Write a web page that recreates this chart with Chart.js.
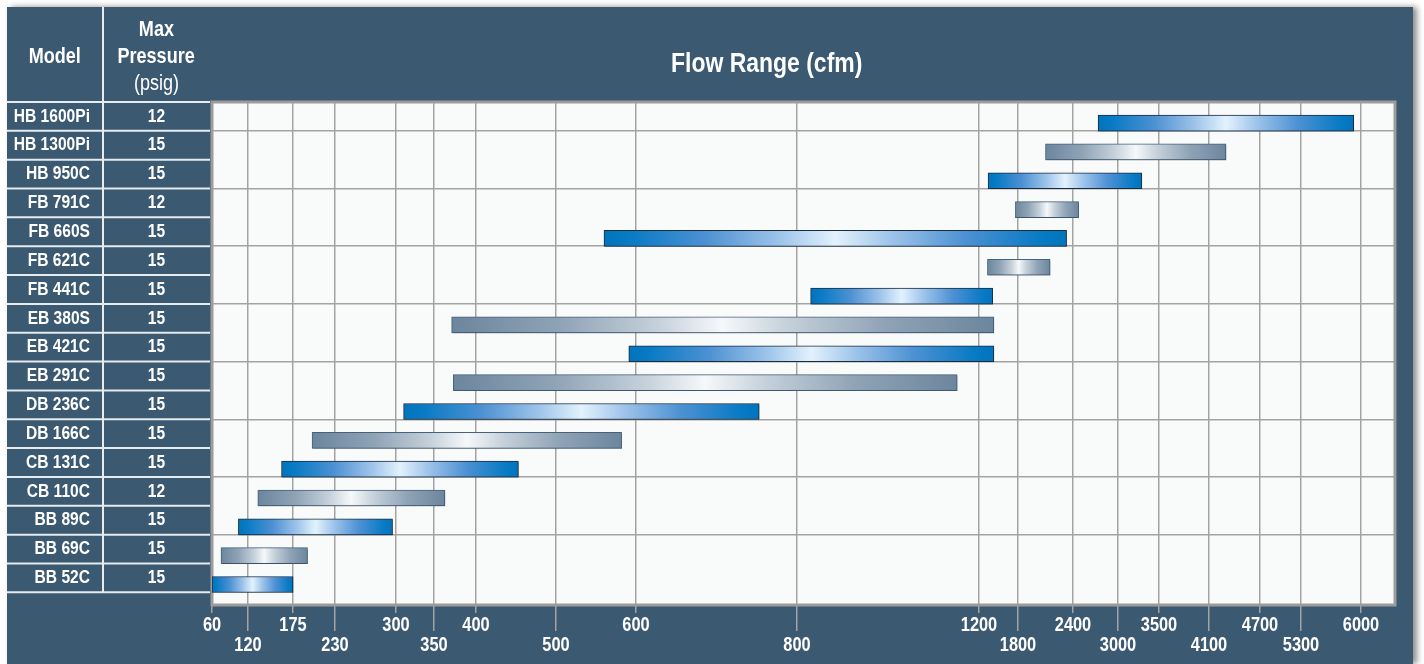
<!DOCTYPE html>
<html>
<head>
<meta charset="utf-8">
<script src="https://cdn.jsdelivr.net/npm/chart.js@4.4.1/dist/chart.umd.min.js"></script>
<style>
  html, body { margin: 0; padding: 0; background: #fff; }
  body { width: 1424px; height: 664px; overflow: hidden; position: relative;
         font-family: "Liberation Sans", Arial, sans-serif; }
  #panel { position: absolute; left: 7px; top: 7px; width: 1406px; height: 657px;
           background: #3b5971; box-shadow: 4px 0 6px rgba(0,0,0,0.45); }
  #chart { position: absolute; left: 0; top: 0; }
  .hdr { position: absolute; color: #fff; font-weight: bold; text-align: center; white-space: nowrap; }
  .hdr b { display: inline-block; font-weight: bold; transform: scaleX(0.82); }
  .hdr b.thin { font-weight: normal; }
</style>
</head>
<body>
<div id="panel">
  <canvas id="chart" width="1406" height="657"></canvas>
  <div class="hdr" style="left:0; width:96px; top:36px; font-size:22px; line-height:26px;"><b>Model</b></div>
  <div class="hdr" style="left:96px; width:107px; top:8px; font-size:22px; line-height:27px;"><b>Max</b><br><b>Pressure</b><br><b class="thin">(psig)</b></div>
  <div class="hdr" style="left:560px; width:400px; top:39px; font-size:28px; line-height:34px;"><b>Flow Range (cfm)</b></div>
</div>
<script>
// rows, top to bottom as in the table
const models = ["HB 1600Pi", "HB 1300Pi", "HB 950C", "FB 791C", "FB 660S", "FB 621C", "FB 441C",
  "EB 380S", "EB 421C", "EB 291C", "DB 236C", "DB 166C", "CB 131C", "CB 110C", "BB 89C", "BB 69C", "BB 52C"];
const maxPressure = [12, 15, 15, 12, 15, 15, 15, 15, 15, 15, 15, 15, 15, 12, 15, 15, 15];
const flowMin = [2735, 2100, 1340, 1760, 560, 1330, 830, 371, 591, 373, 310, 200, 161, 132, 104, 75, 60];
const flowMax = [5915, 4300, 3290, 2475, 2330, 2150, 1410, 1428, 1428, 1152, 753, 582, 453, 363, 296, 194, 175];
const flowTicks = [60, 120, 175, 230, 300, 350, 400, 500, 600, 800, 1200, 1800, 2400, 3000, 3500, 4100, 4700, 5300, 6000];

// the flow axis is not uniform: spacing of each tick along the axis
const axisStops = [0, 36, 81, 123, 184, 222, 264, 344, 424, 585, 767, 806, 861, 906, 947, 997, 1048, 1089, 1149];
const axisEnd = 1183;
const rowShift = 0.23; // table rows sit a little above the bars

const FONT = '"Liberation Sans", Arial, sans-serif';
const SQUEEZE = 0.82; // condensed look, no narrow font installed
const GRID = "#a3a3a3";

class FlowScale extends Chart.LinearScale {
  determineDataLimits() {
    this.min = flowTicks[0];
    this.max = flowTicks[flowTicks.length - 1];
  }
  buildTicks() {
    return flowTicks.map(v => ({ value: v }));
  }
  toStop(v) {
    const n = flowTicks.length;
    if (v <= flowTicks[0]) return axisStops[0];
    for (let i = 1; i < n; i++) {
      if (v <= flowTicks[i]) {
        const t = (v - flowTicks[i - 1]) / (flowTicks[i] - flowTicks[i - 1]);
        return axisStops[i - 1] + t * (axisStops[i] - axisStops[i - 1]);
      }
    }
    return axisStops[n - 1];
  }
  getPixelForValue(v) {
    return this.getPixelForDecimal(this.toStop(v) / axisEnd);
  }
  getValueForPixel(p) {
    const s = this.getDecimalForPixel(p) * axisEnd;
    for (let i = 1; i < axisStops.length; i++) {
      if (s <= axisStops[i]) {
        const t = (s - axisStops[i - 1]) / (axisStops[i] - axisStops[i - 1]);
        return flowTicks[i - 1] + t * (flowTicks[i] - flowTicks[i - 1]);
      }
    }
    return flowTicks[flowTicks.length - 1];
  }
}
FlowScale.id = "flow";
FlowScale.defaults = Chart.LinearScale.defaults;
Chart.register(FlowScale);

const blueStops = [[0, "#0074bd"], [0.06, "#0a7bc5"], [0.22, "#4d91d3"], [0.38, "#9ec4ea"], [0.5, "#e2f2fd"],
  [0.62, "#9ec4ea"], [0.78, "#4d91d3"], [0.94, "#0a7bc5"], [1, "#0074bd"]];
const grayStops = [[0, "#6c869d"], [0.2, "#8fa3b6"], [0.38, "#c5d0da"], [0.5, "#f6f8fa"],
  [0.62, "#c5d0da"], [0.8, "#8fa3b6"], [1, "#6c869d"]];

function barFill(c) {
  const chart = c.chart;
  if (!chart.chartArea || !c.raw) return "#0074bd";
  const xs = chart.scales.x;
  const x0 = xs.getPixelForValue(c.raw.x[0]);
  const x1 = xs.getPixelForValue(c.raw.x[1]);
  const g = chart.ctx.createLinearGradient(x0, 0, x1, 0);
  (c.dataIndex % 2 === 0 ? blueStops : grayStops).forEach(s => g.addColorStop(s[0], s[1]));
  return g;
}

const yMin = -0.71, yMax = 16.73;
const rowCount = models.length;

// squeeze canvas text horizontally around its anchor point
const narrowText = {
  id: "narrowText",
  beforeInit(chart) {
    const ctx = chart.ctx;
    const fill = ctx.fillText;
    ctx.fillText = function (text, x, y, maxWidth) {
      this.save();
      this.translate(x, y);
      this.scale(SQUEEZE, 1);
      if (maxWidth === undefined) fill.call(this, text, 0, 0);
      else fill.call(this, text, 0, 0, maxWidth / SQUEEZE);
      this.restore();
    };
  }
};

const tablePlugin = {
  id: "table",
  beforeDraw(chart) {
    const { ctx, chartArea: a } = chart;
    const y = chart.scales.y, m = chart.scales.model, p = chart.scales.pressure;
    ctx.save();
    ctx.fillStyle = "#f9fbfb";
    ctx.fillRect(a.left, a.top, a.right - a.left, a.bottom - a.top);
    ctx.strokeStyle = "#e6ecf0";
    ctx.lineWidth = 2;
    for (let j = 0; j <= rowCount; j++) {
      const py = y.getPixelForValue(j - 0.5 + rowShift);
      ctx.beginPath();
      ctx.moveTo(m.left, py);
      ctx.lineTo(p.right - 2, py);
      ctx.stroke();
    }
    ctx.beginPath();
    ctx.moveTo(m.right, 0);
    ctx.lineTo(m.right, y.getPixelForValue(-0.5 + rowShift));
    ctx.stroke();
    ctx.restore();
  },
  beforeDatasetsDraw(chart) {
    const { ctx, chartArea: a } = chart;
    ctx.save();
    ctx.strokeStyle = "#9c9c9c";
    ctx.lineWidth = 3;
    ctx.strokeRect(a.left, a.top, a.right - a.left, a.bottom - a.top);
    ctx.restore();
    ctx.save();
    ctx.shadowColor = "rgba(30,45,60,0.35)";
    ctx.shadowOffsetX = 1;
    ctx.shadowOffsetY = 1.5;
    ctx.shadowBlur = 2;
  },
  afterDatasetsDraw(chart) {
    chart.ctx.restore();
  }
};

const rowAxis = (weight, labels, opts) => ({
  type: "linear",
  position: "left",
  weight: weight,
  min: yMin,
  max: yMax,
  offset: false,
  grid: { display: false, drawTicks: false, offset: false },
  border: { display: false },
  afterBuildTicks: s => { s.ticks = labels.map((_, i) => ({ value: i + rowShift })); },
  afterFit: s => { s.width = opts.width; },
  ticks: {
    autoSkip: false,
    color: "#ffffff",
    font: { family: FONT, size: 19, weight: "bold" },
    padding: opts.padding,
    crossAlign: opts.align,
    callback: (v, i) => String(labels[rowCount - 1 - i])
  }
});

new Chart(document.getElementById("chart"), {
  type: "bar",
  data: {
    datasets: [{
      data: models.map((m, i) => ({ x: [flowMin[i], flowMax[i]], y: rowCount - 1 - i })),
      backgroundColor: barFill,
      borderColor: models.map((m, i) => i % 2 === 0 ? "#1b2c3e" : "#46637d"),
      borderWidth: 1,
      borderSkipped: false,
      barThickness: 16
    }]
  },
  options: {
    indexAxis: "y",
    responsive: false,
    animation: false,
    layout: { padding: { top: 95, right: 18, left: 0, bottom: 0 } },
    plugins: { legend: { display: false }, tooltip: { enabled: false } },
    scales: {
      x: {
        type: "flow",
        position: "bottom",
        afterFit: s => { s.height = 59; },
        grid: {
          color: GRID,
          lineWidth: 1.5,
          tickColor: GRID,
          tickLength: 26,
          tickBorderDash: c => (c.index % 2 === 0 ? [8, 100] : [])
        },
        border: { display: false },
        ticks: {
          autoSkip: false,
          maxRotation: 0,
          color: "#ffffff",
          padding: -16,
          font: { family: FONT, size: 20, weight: "bold", lineHeight: "20px" },
          callback: (v, i) => (i % 2 === 0 ? [String(v)] : ["", String(v)])
        }
      },
      y: {
        type: "linear",
        position: "left",
        weight: 0,
        min: yMin,
        max: yMax,
        offset: false,
        afterBuildTicks: s => {
          const t = [];
          for (let k = 1; k < rowCount - 1; k += 2) t.push({ value: k + 0.5 + rowShift });
          s.ticks = t;
        },
        afterFit: s => { s.width = 0; },
        grid: { color: GRID, lineWidth: 1.5, drawTicks: false, offset: false },
        border: { display: false },
        ticks: { display: false }
      },
      pressure: rowAxis(1, maxPressure, { width: 109, padding: 45, align: "center" }),
      model: rowAxis(2, models, { width: 96, padding: 13, align: "near" })
    }
  },
  plugins: [narrowText, tablePlugin]
});
</script>
</body>
</html>
